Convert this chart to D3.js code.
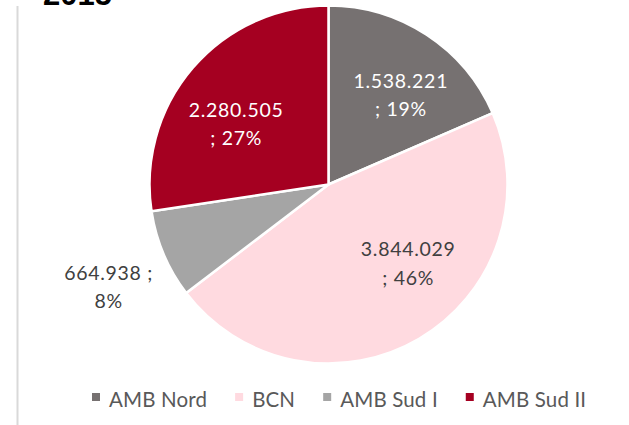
<!DOCTYPE html>
<html>
<head>
<meta charset="utf-8">
<script src="https://cdn.jsdelivr.net/npm/d3@7"></script>
<style>
  body { margin: 0; background: #fff; }
  svg { display: block; }
</style>
</head>
<body>
<div id="chart"></div>
<script>
// data
var categories = ["AMB Nord", "BCN", "AMB Sud I", "AMB Sud II"];
var values = [1538221, 3844029, 664938, 2280505];
var shares = [19, 46, 8, 27];   // percent as printed on the labels
var title = "2015";

var colors = ["#767171", "#FFDAE0", "#A5A5A5", "#A50021"];
var labelColors = ["#fff", "#404040", "#404040", "#fff"];
var labelOutside = [false, false, true, false];
// small shifts of each label away from the slice centroid (Excel fits text boxes)
var labelNudge = [[12, 3], [24, -15], [3, 9], [-9, 12]];

var width = 629;
var height = 425;
var cx = 328.5, cy = 184.5, radius = 179;

var svg = d3.select("#chart").append("svg")
    .attr("width", width)
    .attr("height", height);

// left border line of the panel
svg.append("line")
    .attr("x1", 17.5).attr("x2", 17.5)
    .attr("y1", 6).attr("y2", height)
    .style("stroke", "#d9d9d9")
    .style("stroke-width", 2);

// title, cut by the top edge like in the source
svg.append("text")
    .attr("x", 43)
    .attr("y", 5)
    .style("font-family", "Liberation Sans, Arial, sans-serif")
    .style("font-weight", "bold")
    .style("font-size", "31px")
    .text(title);

var locale = d3.formatLocale({decimal: ",", thousands: ".", grouping: [3], currency: ["", "€"]});
var fmt = locale.format(",d");

var items = categories.map(function(c, i) {
    return {name: c, value: values[i], share: shares[i], i: i};
});

var pie = d3.pie()
    .sort(null)
    .value(function(d) { return d.value; });

var arc = d3.arc().innerRadius(0).outerRadius(radius);
var labelArc = d3.arc().innerRadius(110).outerRadius(110);
var outerArc = d3.arc().innerRadius(radius + 63).outerRadius(radius + 63);

var g = svg.append("g")
    .attr("transform", "translate(" + cx + "," + cy + ")");

var arcs = pie(items);

g.selectAll(".slice")
    .data(arcs)
    .enter().append("path")
    .attr("class", "slice")
    .attr("d", arc)
    .style("fill", function(d) { return colors[d.data.i]; })
    .style("stroke", "#fff")
    .style("stroke-width", 2.5)
    .style("stroke-linejoin", "round");

var labels = g.selectAll(".lbl")
    .data(arcs)
    .enter().append("text")
    .attr("class", "lbl")
    .attr("text-anchor", "middle")
    .style("font-family", "Lato, 'Open Sans', sans-serif")
    .style("font-size", "19.5px")
    .style("letter-spacing", "0.7px")
    .style("fill", function(d) { return labelColors[d.data.i]; })
    .attr("transform", function(d) {
        var p = labelOutside[d.data.i] ? outerArc.centroid(d) : labelArc.centroid(d);
        var n = labelNudge[d.data.i];
        return "translate(" + (p[0] + n[0]) + "," + (p[1] + n[1]) + ")";
    });

labels.each(function(d) {
    var t = d3.select(this);
    var line1, line2;
    if (labelOutside[d.data.i]) {
        line1 = fmt(d.data.value) + " ;";
        line2 = d.data.share + "%";
    } else {
        line1 = fmt(d.data.value);
        line2 = "; " + d.data.share + "%";
    }
    t.append("tspan").attr("x", 0).attr("y", -8).text(line1);
    t.append("tspan").attr("x", 0).attr("y", 20.5).text(line2);
});

// legend along the bottom
var legend = svg.append("g").attr("transform", "translate(0,407)");
var lx = 92;
items.forEach(function(d) {
    legend.append("rect")
        .attr("x", lx)
        .attr("y", -14)
        .attr("width", 8)
        .attr("height", 8)
        .style("fill", colors[d.i]);
    var t = legend.append("text")
        .attr("x", lx + 17)
        .attr("y", 0)
        .style("font-family", "Lato, 'Open Sans', sans-serif")
        .style("font-size", "20.5px")
        .style("letter-spacing", "0.15px")
        .style("fill", "#595959")
        .text(d.name);
    lx = lx + 17 + t.node().getComputedTextLength() + 28;
});
</script>
</body>
</html>
